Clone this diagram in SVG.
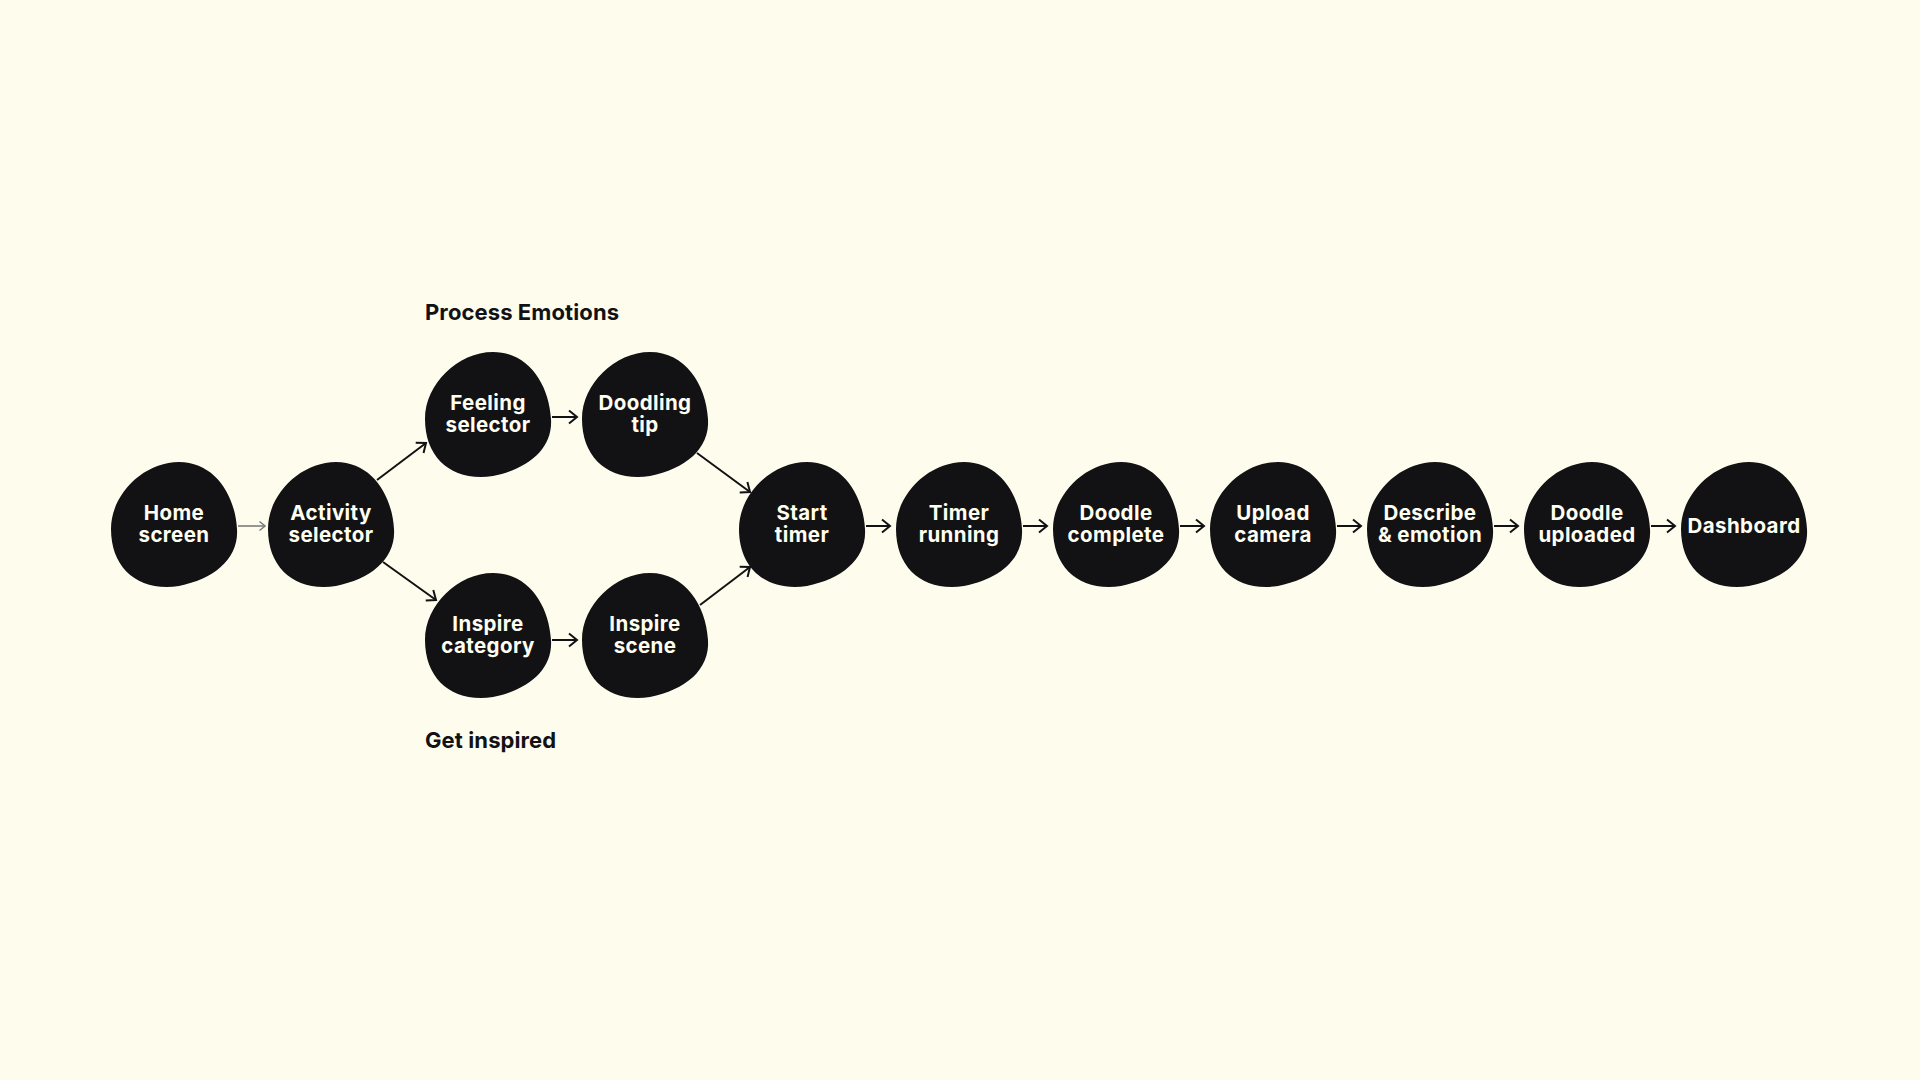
<svg xmlns="http://www.w3.org/2000/svg" xmlns:xlink="http://www.w3.org/1999/xlink" width="1920" height="1080" viewBox="0 0 1920 1080">
<defs>
<style>
.bg{fill:#FEFDED}
.blob{fill:#121215}
.lbl{fill:#FFFFF2;font-family:Inter,"Open Sans","Liberation Sans",sans-serif;font-weight:700;font-size:20.5px;letter-spacing:0.4px;text-anchor:middle}
.head{fill:#121215;font-family:Inter,"Open Sans","Liberation Sans",sans-serif;font-weight:700;font-size:22px;letter-spacing:0.1px}
.edge{fill:none;stroke:#121215;stroke-width:2;marker-end:url(#arr)}
.edge-light{fill:none;stroke:#7c7c7c;stroke-width:1.6;marker-end:url(#arrL)}
</style>
<path id="blob" d="M-63,5 C-63,-30 -30,-62 5,-62 C40,-62 61,-30 63,5 C65,35 40,55 5,62 C-35,68 -63,45 -63,5 Z"/>
<marker id="arr" viewBox="0 0 12 16" refX="10" refY="8" markerWidth="12" markerHeight="16" markerUnits="userSpaceOnUse" orient="auto">
<path d="M2,1.5 L10,8 L2,14.5" fill="none" stroke="#121215" stroke-width="2"/>
</marker>
<marker id="arrL" viewBox="0 0 8 12" refX="7" refY="6" markerWidth="8" markerHeight="12" markerUnits="userSpaceOnUse" orient="auto">
<path d="M1.5,1.5 L7,6 L1.5,10.5" fill="none" stroke="#7c7c7c" stroke-width="1.5"/>
</marker>
</defs>
<rect class="bg" x="0" y="0" width="1920" height="1080"/>

<text class="head" x="425" y="320">Process Emotions</text>
<text class="head" x="425" y="748">Get inspired</text>

<g id="connectors">
<line class="edge-light" x1="238" y1="526" x2="265" y2="526"/>
<line class="edge" x1="377" y1="480" x2="426" y2="443"/>
<line class="edge" x1="383" y1="562" x2="436" y2="600"/>
<line class="edge" x1="552" y1="417" x2="577" y2="417"/>
<line class="edge" x1="552" y1="640" x2="577" y2="640"/>
<line class="edge" x1="697" y1="453" x2="750" y2="492"/>
<line class="edge" x1="700" y1="605" x2="750" y2="567"/>
<line class="edge" x1="866" y1="526" x2="890" y2="526"/>
<line class="edge" x1="1023" y1="526" x2="1047" y2="526"/>
<line class="edge" x1="1180" y1="526" x2="1204" y2="526"/>
<line class="edge" x1="1337" y1="526" x2="1361" y2="526"/>
<line class="edge" x1="1494" y1="526" x2="1518" y2="526"/>
<line class="edge" x1="1651" y1="526" x2="1675" y2="526"/>
</g>

<g id="home-screen"><use xlink:href="#blob" class="blob" x="174" y="524"/><text class="lbl" x="174" y="520">Home</text><text class="lbl" x="174" y="542">screen</text></g>
<g id="activity-selector"><use xlink:href="#blob" class="blob" x="331" y="524"/><text class="lbl" x="331" y="520">Activity</text><text class="lbl" x="331" y="542">selector</text></g>
<g id="feeling-selector"><use xlink:href="#blob" class="blob" x="488" y="414"/><text class="lbl" x="488" y="410">Feeling</text><text class="lbl" x="488" y="432">selector</text></g>
<g id="doodling-tip"><use xlink:href="#blob" class="blob" x="645" y="414"/><text class="lbl" x="645" y="410">Doodling</text><text class="lbl" x="645" y="432">tip</text></g>
<g id="inspire-category"><use xlink:href="#blob" class="blob" x="488" y="635"/><text class="lbl" x="488" y="631">Inspire</text><text class="lbl" x="488" y="653">category</text></g>
<g id="inspire-scene"><use xlink:href="#blob" class="blob" x="645" y="635"/><text class="lbl" x="645" y="631">Inspire</text><text class="lbl" x="645" y="653">scene</text></g>
<g id="start-timer"><use xlink:href="#blob" class="blob" x="802" y="524"/><text class="lbl" x="802" y="520">Start</text><text class="lbl" x="802" y="542">timer</text></g>
<g id="timer-running"><use xlink:href="#blob" class="blob" x="959" y="524"/><text class="lbl" x="959" y="520">Timer</text><text class="lbl" x="959" y="542">running</text></g>
<g id="doodle-complete"><use xlink:href="#blob" class="blob" x="1116" y="524"/><text class="lbl" x="1116" y="520">Doodle</text><text class="lbl" x="1116" y="542">complete</text></g>
<g id="upload-camera"><use xlink:href="#blob" class="blob" x="1273" y="524"/><text class="lbl" x="1273" y="520">Upload</text><text class="lbl" x="1273" y="542">camera</text></g>
<g id="describe-emotion"><use xlink:href="#blob" class="blob" x="1430" y="524"/><text class="lbl" x="1430" y="520">Describe</text><text class="lbl" x="1430" y="542">&amp; emotion</text></g>
<g id="doodle-uploaded"><use xlink:href="#blob" class="blob" x="1587" y="524"/><text class="lbl" x="1587" y="520">Doodle</text><text class="lbl" x="1587" y="542">uploaded</text></g>
<g id="dashboard"><use xlink:href="#blob" class="blob" x="1744" y="524"/><text class="lbl" x="1744" y="533">Dashboard</text></g>
</svg>
